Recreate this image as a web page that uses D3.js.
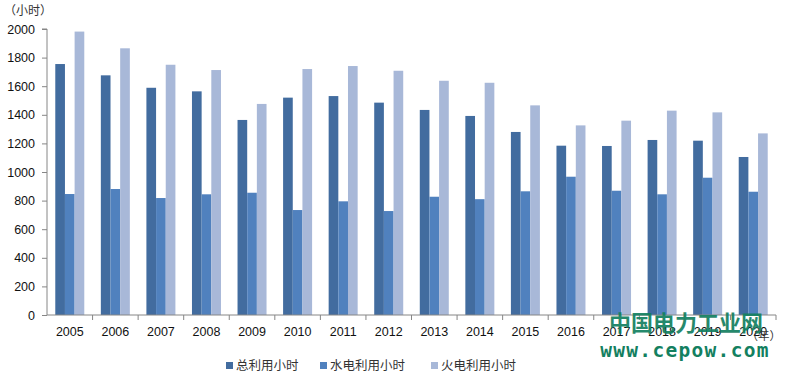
<!DOCTYPE html>
<html><head><meta charset="utf-8">
<script src="https://cdn.jsdelivr.net/npm/d3@7/dist/d3.min.js"></script>
<style>
body{margin:0;background:#fff;}
svg{display:block;font-family:"Liberation Sans","Noto Sans CJK SC",sans-serif;}
</style></head><body>
<svg id="c" width="786" height="377"></svg>
<script>
const years = ["2005","2006","2007","2008","2009","2010","2011","2012","2013","2014","2015","2016","2017","2018","2019","2020"];
const seriesNames = ["总利用小时","水电利用小时","火电利用小时"];
const totalHours = [1755,1676,1589,1564,1364,1520,1531,1485,1434,1392,1280,1184,1182,1224,1219,1105];
const hydroHours = [846,881,818,844,855,734,795,727,827,810,865,967,869,844,960,862];
const thermalHours = [1982,1865,1750,1713,1476,1720,1741,1708,1638,1624,1466,1326,1359,1429,1417,1270];
const yTicks = [0,200,400,600,800,1000,1200,1400,1600,1800,2000];
const colors = ["#426C9F","#5081BE","#A8B8D8"];

const svg = d3.select("#c");
const L = 47, R = 776, T = 29, B = 315;
const x = d3.scaleBand().domain(years).range([L, R]).padding(0);
const groupW = 29;
const x1 = d3.scaleBand().domain(seriesNames).range([0, groupW]).padding(0);
const y = d3.scaleLinear().domain([0, 2000]).range([B, T]);
const seriesVals = [totalHours, hydroHours, thermalHours];

// bars
seriesNames.forEach((s, si) => {
  svg.append("g").selectAll("rect").data(years).join("rect")
    .attr("x", d => x(d) + (x.bandwidth() - groupW) / 2 + x1(s))
    .attr("width", x1.bandwidth())
    .attr("y", (d, i) => y(seriesVals[si][i]))
    .attr("height", (d, i) => B - y(seriesVals[si][i]))
    .attr("fill", colors[si]);
});

// y axis
const yAxis = svg.append("g").attr("transform", `translate(${L},0)`)
  .call(d3.axisLeft(y).tickValues(yTicks).tickSize(5).tickPadding(7).tickFormat(d3.format("d")));
yAxis.select(".domain").attr("stroke", "#868686").attr("d", `M-5,${T}H0V${B}`);
yAxis.selectAll(".tick line").attr("stroke", "#868686");
yAxis.selectAll("text").attr("font-size", "12.5px").attr("fill", "#111");

// x axis
const xAxis = svg.append("g").attr("transform", `translate(0,${B})`)
  .call(d3.axisBottom(x).tickSize(0).tickPadding(12));
xAxis.select(".domain").attr("stroke", "#868686").attr("d", `M${L},0H${R}`);
xAxis.selectAll("text").attr("font-size", "12.5px").attr("fill", "#111");
svg.append("g").selectAll("line").data(years.slice(1).concat(["end"])).join("line")
  .attr("x1", (d, i) => L + (i + 1) * x.bandwidth())
  .attr("x2", (d, i) => L + (i + 1) * x.bandwidth())
  .attr("y1", B).attr("y2", B + 5).attr("stroke", "#868686");

// unit labels
svg.append("text").attr("x", 4).attr("y", 15).attr("font-size", "12px").attr("fill", "#333").text("（小时）");

// legend
const legX = [226, 320, 431];
seriesNames.forEach((s, i) => {
  svg.append("rect").attr("x", legX[i]).attr("y", 362).attr("width", 7).attr("height", 7).attr("fill", colors[i]);
  svg.append("text").attr("x", legX[i] + 10).attr("y", 370).attr("font-size", "12.5px").attr("fill", "#333").text(s);
});

// watermark
svg.append("text").attr("x", 686).attr("y", 331).attr("text-anchor", "middle")
  .attr("font-size", "22px").attr("font-weight", "bold").attr("fill", "#138060")
  .attr("font-family", "Noto Sans CJK SC").attr("opacity", 0.92).text("中国电力工业网");
svg.append("text").attr("x", 781).attr("y", 340).attr("text-anchor", "end")
  .attr("font-size", "11.5px").attr("fill", "#333").text("（年）");
svg.append("text").attr("x", 685).attr("y", 357).attr("text-anchor", "middle")
  .attr("font-size", "19.5px").attr("font-weight", "bold").attr("fill", "#138060")
  .attr("font-family", "DejaVu Sans Mono").attr("letter-spacing", "1.3px").text("www.cepow.com");
</script>
</body></html>
